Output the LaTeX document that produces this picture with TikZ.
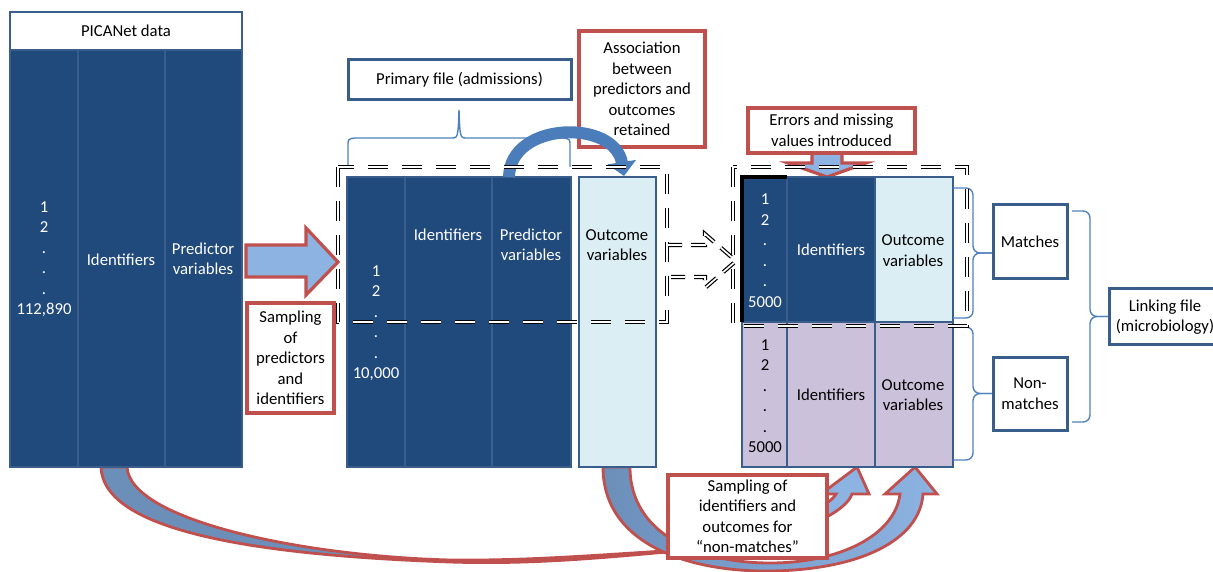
\documentclass[tikz,border=0pt]{standalone}
\usepackage{fontspec}
\setmainfont{Carlito}
\usetikzlibrary{arrows.meta}
\definecolor{dkblue}{RGB}{32,73,124}
\definecolor{bdblue}{RGB}{58,94,140}
\definecolor{ltblue}{RGB}{219,238,244}
\definecolor{lav}{RGB}{204,193,218}
\definecolor{redb}{RGB}{192,80,77}
\definecolor{arrblue}{RGB}{141,179,226}
\definecolor{steel}{RGB}{108,143,186}
\definecolor{brc}{RGB}{79,129,189}
\definecolor{assocc}{RGB}{74,125,186}
\newcommand\bx[7]{%
  \pgfmathsetmacro\bxw{#5-#3}\pgfmathsetmacro\bxh{#6-#4}%
  \node[#1, minimum width=\bxw pt, minimum height=\bxh pt] (#2) at ({(#3+#5)/2},{(#4+#6)/2}) {#7};}
\newcommand\rbrc[5]{%
  \pgfmathsetmacro\brmid{(#4+#5)/2}%
  \draw[bracel, rounded corners=7pt] (#1,#4) -- (#2,#4) -- (#2,\brmid) -- (#3,\brmid);
  \draw[bracel, rounded corners=7pt] (#1,#5) -- (#2,#5) -- (#2,\brmid) -- (#3,\brmid);}
\begin{document}
\begin{tikzpicture}[x=1pt,y=-1pt,
  every node/.style={font=\fontsize{16.7}{20.5}\selectfont, align=center, inner sep=0pt, outer sep=0pt},
  dk/.style={draw=bdblue, fill=dkblue, line width=2.5pt},
  lt/.style={draw=bdblue, fill=ltblue, line width=2.5pt},
  lv/.style={draw=bdblue, fill=lav, line width=2.5pt},
  hdr/.style={draw=bdblue, fill=white, line width=2.5pt},
  bb/.style={draw=bdblue, fill=white, line width=3pt},
  rb/.style={draw=redb, fill=white, line width=3.2pt},
  wt/.style={text=white},
  bt/.style={text=black},
  rarrow/.style={fill=arrblue, draw=redb, line width=3.2pt, line join=miter},
  bracel/.style={draw=brc, line width=1.4pt},
  dbl/.style={draw=black, line width=1.2pt, double=white, double distance=1.7pt, dash pattern=on 20pt off 14pt},
  dbla/.style={dbl, dash pattern=on 14pt off 9pt}]
\useasboundingbox (0,0) rectangle (1213,572);
\clip (0,0) rectangle (1213,572);

% ---- bottom arrows (behind everything) ----
\path[fill=steel, draw=redb, line width=2.8pt, line join=round]
  (101,467) .. controls (103,530) and (250,555) .. (450,562)
  .. controls (540,565) and (620,556) .. (700,549)
  .. controls (620,553) and (540,561) .. (450,560)
  .. controls (300,556) and (130,520) .. (127,467) -- cycle;
\path[fill=arrblue, draw=redb, line width=2.8pt, line join=miter]
  (790,530) .. controls (825,522) and (848,506) .. (852,494) -- (869,494) -- (857,467)
  -- (821,494) -- (836,494) .. controls (831,503) and (815,511) .. (790,516) -- cycle;
\path[draw=redb, line width=2.8pt, line join=miter, left color=steel, right color=arrblue]
  (603,467) .. controls (603,545) and (690,572) .. (770,571)
  .. controls (860,570) and (920,540) .. (923,494) -- (937,494) -- (915,467)
  -- (885,494) -- (900,494) .. controls (895,535) and (840,563) .. (770,563)
  .. controls (700,563) and (630,535) .. (630,467) -- cycle;

% ---- PICANet data ----
\bx{hdr}{pican}{10}{12}{242}{50}{PICANet data}
\bx{dk}{pc1}{10}{50}{78}{467}{}
\bx{dk}{pc2}{78}{50}{165}{467}{}
\bx{dk}{pc3}{165}{50}{242}{467}{}
\node[wt] (pt1) at (44,259) {1\\2\\.\\.\\.\\112,890};
\node[wt] (pt2) at (121,260) {Identifiers};
\node[wt] (pt3) at (203,259) {Predictor\\variables};

% ---- sampling arrow ----
\draw[rarrow] (246,245) -- (306,245) -- (306,228) -- (338,262) -- (306,295) -- (306,277) -- (246,277) -- cycle;
\bx{rb}{samp}{247}{303}{334}{413}{Sampling\\of\\predictors\\and\\identifiers}

% ---- primary file ----
\bx{bb}{prim}{348}{60}{571}{100}{Primary file (admissions)}
\draw[bracel] (348,167) -- (348,146) .. controls (348,139) .. (355,138) -- (451,138)
  .. controls (458,138) .. (459,110) .. controls (460,138) .. (467,138) -- (563,138)
  .. controls (570,139) .. (570,146) -- (570,167);
\bx{dk}{q1}{347}{177}{405}{467}{}
\bx{dk}{q2}{405}{177}{492}{467}{}
\bx{dk}{q3}{492}{177}{571}{467}{}
\bx{lt}{q4}{579}{177}{656}{467}{}
\node[wt] (qt1) at (376,323) {1\\2\\.\\.\\.\\10,000};
\node[wt] (qt2) at (448,235) {Identifiers};
\node[wt] (qt3) at (531,245) {Predictor\\variables};
\node[bt] (qt4) at (617,245) {Outcome\\variables};

\bx{rb}{assoc}{579}{31}{705}{147}{Association\\between\\predictors and\\outcomes\\retained}
\draw[assocc, line width=12pt, -{Triangle[width=28pt,length=14pt]}]
  (509,177) .. controls (510,121) and (615,119) .. (624,176);

% ---- linking file blocks ----
\draw[rarrow] (812,150) -- (842,150) -- (842,163) -- (866,163) -- (827,177) -- (788,163) -- (812,163) -- cycle;
\bx{rb}{err}{748}{108}{915}{153}{Errors and missing\\values introduced}
\bx{dk}{m1}{742}{177}{787}{322}{}
\bx{dk}{m2}{787}{177}{875}{322}{}
\bx{lt}{m3}{875}{177}{953}{322}{}
\bx{lv}{n1}{742}{322}{787}{467}{}
\bx{lv}{n2}{787}{322}{875}{467}{}
\bx{lv}{n3}{875}{322}{953}{467}{}
\draw[black, line width=3.2pt] (m1.south west) -- (m1.north west) -- (m1.north east);
\node[wt] (mt1) at (765,250.5) {1\\2\\.\\.\\.\\5000};
\node[wt] (mt2) at (831,250) {Identifiers};
\node[bt] (mt3) at (913,250.5) {Outcome\\variables};
\node[bt] (nt1) at (765,396) {1\\2\\.\\.\\.\\5000};
\node[bt] (nt2) at (831,395) {Identifiers};
\node[bt] (nt3) at (913,395) {Outcome\\variables};

\rbrc{953}{973}{993}{188}{318}
\rbrc{953}{973}{993}{327}{460}
\rbrc{1072}{1090}{1108}{211}{422}
\bx{bb}{match}{993}{205}{1067}{278}{Matches}
\bx{bb}{nonm}{993}{357}{1067}{430}{Non-\\matches}
\bx{bb}{link}{1109}{288}{1224}{344}{}
\node[bt] (linkt) at (1165,317) {Linking file\\(microbiology)};

% ---- dashed frames ----
\draw[dbl] (338,167) rectangle (667,322);
\draw[dbl] (733,167) rectangle (967,326);
\draw[dbla] (668,245) -- (705,245) -- (705,234) -- (736,261) -- (705,288) -- (705,277) -- (668,277);

% ---- sampling of non-matches ----
\bx{rb}{samp2}{668}{475}{827}{558}{Sampling of\\identifiers and\\outcomes for\\“non-matches”}
\end{tikzpicture}
\end{document}
